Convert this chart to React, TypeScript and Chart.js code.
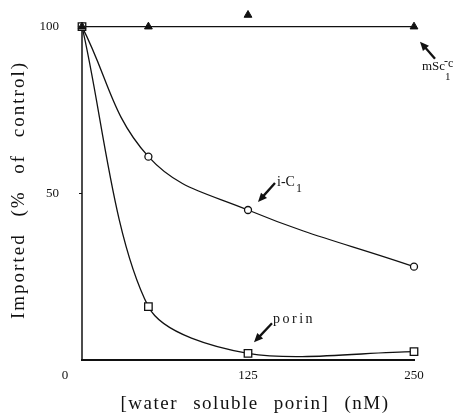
import React, { useEffect, useRef } from "react";
import { Chart, registerables } from "chart.js";

Chart.register(...registerables);

const concentrations = [0, 50, 125, 250];
const iC1Values = [100, 61, 45, 28];
const porinValues = [100, 16, 2, 2.5];
const mScValues = [100, 100, 103.5, 100];
const mScFitX = [0, 250];
const mScFitY = [100, 100];
const yTickValues = [50, 100];
const xTickValues = [125, 250];
const yAxisRange = [0, 100];

const SERIF = "'Liberation Serif', 'Times New Roman', serif";
const INK = "#111";

function toPoints(xs: number[], ys: number[]) {
  return xs.map((x, i) => ({ x, y: ys[i] }));
}

function arrow(ctx: CanvasRenderingContext2D, x1: number, y1: number, x2: number, y2: number) {
  const ang = Math.atan2(y2 - y1, x2 - x1);
  const hl = 9;
  const hw = 4;
  ctx.save();
  ctx.strokeStyle = INK;
  ctx.fillStyle = INK;
  ctx.lineWidth = 2.3;
  ctx.beginPath();
  ctx.moveTo(x1, y1);
  ctx.lineTo(x2 - Math.cos(ang) * hl * 0.8, y2 - Math.sin(ang) * hl * 0.8);
  ctx.stroke();
  ctx.beginPath();
  ctx.moveTo(x2, y2);
  ctx.lineTo(x2 - Math.cos(ang) * hl - Math.sin(ang) * hw, y2 - Math.sin(ang) * hl + Math.cos(ang) * hw);
  ctx.lineTo(x2 - Math.cos(ang) * hl + Math.sin(ang) * hw, y2 - Math.sin(ang) * hl - Math.cos(ang) * hw);
  ctx.closePath();
  ctx.fill();
  ctx.restore();
}

const axisPlugin = {
  id: "yAxisLine",
  beforeDatasetsDraw(chart: any) {
    const ctx: CanvasRenderingContext2D = chart.ctx;
    const xs = chart.scales.x;
    const ys = chart.scales.y;
    const x0 = xs.getPixelForValue(0);
    ctx.save();
    ctx.strokeStyle = INK;
    ctx.lineWidth = 1.5;
    ctx.beginPath();
    ctx.moveTo(x0, ys.getPixelForValue(yAxisRange[0]));
    ctx.lineTo(x0, ys.getPixelForValue(yAxisRange[1]));
    ctx.stroke();
    ctx.restore();
  },
};

const annotationPlugin = {
  id: "annotations",
  afterDatasetsDraw(chart: any) {
    const ctx: CanvasRenderingContext2D = chart.ctx;
    const xs = chart.scales.x;
    const ys = chart.scales.y;
    const n = concentrations.length - 1;
    ctx.save();
    ctx.fillStyle = INK;
    ctx.textAlign = "left";
    ctx.textBaseline = "alphabetic";

    // mSc1-c label
    const mx = xs.getPixelForValue(concentrations[n]);
    const my = ys.getPixelForValue(mScFitY[1]);
    arrow(ctx, mx + 21, my + 32, mx + 6, my + 15);
    ctx.font = `13px ${SERIF}`;
    const mscW = ctx.measureText("mSc").width;
    ctx.fillText("mSc", mx + 8, my + 43);
    ctx.font = `11px ${SERIF}`;
    ctx.fillText("1", mx + 8 + mscW, my + 53);
    ctx.font = `12px ${SERIF}`;
    ctx.fillText("-", mx + 7 + mscW, my + 38);
    ctx.fillText("c", mx + 11 + mscW, my + 40);

    // i-C1 label
    const ix = xs.getPixelForValue(concentrations[2]);
    const iy = ys.getPixelForValue(iC1Values[2]);
    arrow(ctx, ix + 27, iy - 27, ix + 10, iy - 8);
    ctx.font = `14px ${SERIF}`;
    const icW = ctx.measureText("i-C").width;
    ctx.fillText("i-C", ix + 29, iy - 24);
    ctx.font = `12px ${SERIF}`;
    ctx.fillText("1", ix + 30 + icW, iy - 18);

    // porin label
    const px = xs.getPixelForValue(concentrations[2]);
    const py = ys.getPixelForValue(porinValues[2]);
    arrow(ctx, px + 24, py - 30, px + 6, py - 11);
    ctx.font = `14px ${SERIF}`;
    (ctx as any).letterSpacing = "2.5px";
    ctx.fillText("porin", px + 25, py - 30);
    (ctx as any).letterSpacing = "0px";

    // origin label
    ctx.font = `13px ${SERIF}`;
    ctx.textAlign = "center";
    ctx.fillText("0", xs.getPixelForValue(0) - 17, ys.getPixelForValue(0) + 19);

    // axis titles
    ctx.font = `19px ${SERIF}`;
    (ctx as any).letterSpacing = "1.5px";
    (ctx as any).wordSpacing = "9px";
    ctx.textAlign = "center";
    ctx.textBaseline = "middle";
    ctx.fillText("[water soluble porin] (nM)", 255, 404);
    ctx.save();
    ctx.translate(19, 190);
    ctx.rotate(-Math.PI / 2);
    (ctx as any).letterSpacing = "2px";
    (ctx as any).wordSpacing = "10px";
    ctx.fillText("Imported (% of control)", 0, 0);
    ctx.restore();
    ctx.restore();
  },
};

export default function App() {
  const canvasRef = useRef<HTMLCanvasElement | null>(null);

  useEffect(() => {
    if (!canvasRef.current) return;
    Chart.defaults.font.family = SERIF;
    Chart.defaults.color = INK;
    const chart = new Chart(canvasRef.current, {
      type: "line",
      data: {
        datasets: [
          {
            label: "mSc1-c",
            data: toPoints(concentrations, mScValues),
            showLine: false,
            clip: false,
            pointStyle: "triangle",
            pointRadius: 4.5,
            backgroundColor: INK,
            borderColor: INK,
            borderWidth: 1,
          },
          {
            label: "porin",
            data: toPoints(concentrations, porinValues),
            borderColor: INK,
            borderWidth: 1.3,
            tension: 0.3,
            clip: false,
            pointStyle: "rect",
            pointRadius: 5.3,
            pointBackgroundColor: "#fff",
            pointBorderColor: INK,
            pointBorderWidth: 1.3,
          },
          {
            label: "i-C1",
            data: toPoints(concentrations, iC1Values),
            borderColor: INK,
            borderWidth: 1.3,
            tension: 0.4,
            clip: false,
            pointStyle: "circle",
            pointRadius: 3.5,
            pointBackgroundColor: "#fff",
            pointBorderColor: INK,
            pointBorderWidth: 1.3,
          },
          {
            label: "mSc1-c fit",
            data: toPoints(mScFitX, mScFitY),
            borderColor: INK,
            borderWidth: 1.3,
            clip: false,
            pointRadius: 0,
          },
        ],
      },
      options: {
        animation: false,
        responsive: true,
        maintainAspectRatio: false,
        layout: { padding: { top: 10, right: 51, left: 0, bottom: 0 } },
        plugins: {
          legend: { display: false },
          tooltip: { enabled: false },
        },
        elements: { line: { fill: false, capBezierPoints: false } },
        scales: {
          x: {
            type: "linear",
            min: 0,
            max: 250,
            border: { display: true, color: INK, width: 2 },
            grid: { display: false, drawTicks: false },
            afterBuildTicks: (scale: any) => {
              scale.ticks = xTickValues.map((v) => ({ value: v }));
            },
            afterFit: (scale: any) => {
              scale.height = 57;
            },
            ticks: {
              padding: 8,
              font: { size: 13 },
              color: INK,
              maxRotation: 0,
              autoSkip: false,
            },
          },
          y: {
            type: "linear",
            min: 0,
            max: 105,
            border: { display: false },
            grid: { display: true, drawOnChartArea: false, drawTicks: true, tickLength: 3, color: INK },
            afterBuildTicks: (scale: any) => {
              scale.ticks = yTickValues.map((v) => ({ value: v }));
            },
            afterFit: (scale: any) => {
              scale.width = 82;
              scale.paddingTop = 0;
            },
            ticks: {
              padding: 20,
              font: { size: 13 },
              color: INK,
            },
          },
        },
      } as any,
      plugins: [axisPlugin, annotationPlugin],
    });
    return () => chart.destroy();
  }, []);

  return (
    <div style={{ position: "absolute", left: 0, top: 0, width: 465, height: 417, background: "#fff" }}>
      <canvas ref={canvasRef} />
    </div>
  );
}
